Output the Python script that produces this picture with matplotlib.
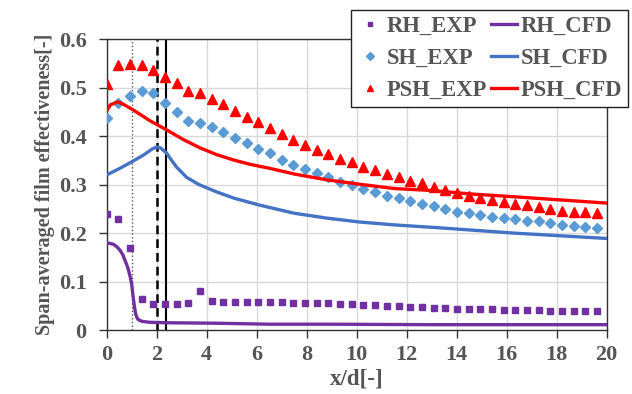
import matplotlib
matplotlib.use("Agg")
import matplotlib.pyplot as plt

# ---------------------------------------------------------------------------
# Data
# ---------------------------------------------------------------------------

x_exp = [0.00, 0.47, 0.93, 1.40, 1.87, 2.34, 2.80, 3.27, 3.74, 4.20,
         4.67, 5.14, 5.60, 6.07, 6.54, 7.01, 7.47, 7.94, 8.41, 8.87,
         9.34, 9.81, 10.27, 10.74, 11.21, 11.68, 12.14, 12.61, 13.08, 13.54,
         14.01, 14.48, 14.94, 15.41, 15.88, 16.35, 16.81, 17.28, 17.75, 18.21,
         18.68, 19.15, 19.61]

rh_exp = [0.239, 0.229, 0.169, 0.065, 0.054, 0.054, 0.054, 0.055, 0.081, 0.060,
          0.057, 0.058, 0.057, 0.057, 0.057, 0.057, 0.056, 0.056, 0.055, 0.055,
          0.054, 0.053, 0.052, 0.052, 0.050, 0.050, 0.048, 0.047, 0.046, 0.045,
          0.044, 0.043, 0.043, 0.043, 0.042, 0.042, 0.041, 0.041, 0.040, 0.040,
          0.040, 0.039, 0.039]

sh_exp = [0.438, 0.468, 0.482, 0.494, 0.489, 0.468, 0.449, 0.431, 0.427, 0.420,
          0.409, 0.396, 0.385, 0.374, 0.365, 0.351, 0.341, 0.332, 0.325, 0.315,
          0.306, 0.299, 0.291, 0.284, 0.277, 0.272, 0.267, 0.261, 0.255, 0.249,
          0.244, 0.241, 0.237, 0.234, 0.232, 0.229, 0.226, 0.224, 0.220, 0.217,
          0.215, 0.213, 0.210]

psh_exp = [0.507, 0.546, 0.549, 0.546, 0.537, 0.523, 0.509, 0.493, 0.489, 0.477,
           0.466, 0.453, 0.440, 0.429, 0.417, 0.405, 0.392, 0.382, 0.372, 0.363,
           0.354, 0.347, 0.337, 0.330, 0.323, 0.315, 0.308, 0.303, 0.296, 0.290,
           0.283, 0.277, 0.272, 0.268, 0.265, 0.261, 0.258, 0.253, 0.250, 0.246,
           0.244, 0.243, 0.241]

x_rh_cfd = [0.0, 0.1, 0.27, 0.4, 0.53, 0.65, 0.73, 0.8, 0.87, 0.93, 1.0,
            1.05, 1.1, 1.15, 1.2, 1.25, 1.4, 1.7, 2.4, 4.4, 6.5, 9.0, 13.0,
            16.0, 20.0]
rh_cfd = [0.180, 0.179, 0.177, 0.172, 0.165, 0.155, 0.144, 0.135, 0.124,
          0.112, 0.095, 0.072, 0.052, 0.035, 0.027, 0.022, 0.018, 0.016,
          0.015, 0.014, 0.012, 0.012, 0.011, 0.011, 0.011]

x_sh_cfd = [0.0, 0.5, 1.0, 1.5, 1.8, 2.0, 2.15, 2.4, 2.6, 2.8, 3.2, 3.7,
            4.4, 5.1, 6.1, 7.5, 8.8, 10.1, 11.5, 13.3, 16.3, 20.0]
sh_cfd = [0.320, 0.333, 0.347, 0.362, 0.373, 0.378, 0.376, 0.365, 0.350,
          0.336, 0.315, 0.300, 0.285, 0.272, 0.258, 0.241, 0.231, 0.223,
          0.217, 0.211, 0.200, 0.189]

x_psh_cfd = [0.0, 0.15, 0.45, 0.7, 1.07, 1.73, 2.4, 3.07, 3.73, 4.4, 5.07,
             5.73, 6.5, 7.5, 8.8, 10.1, 11.5, 13.0, 14.5, 16.3, 18.0, 20.0]
psh_cfd = [0.452, 0.465, 0.471, 0.465, 0.454, 0.432, 0.413, 0.393, 0.376,
           0.362, 0.351, 0.342, 0.334, 0.322, 0.310, 0.301, 0.292, 0.288,
           0.281, 0.275, 0.269, 0.262]

# reference positions marked by vertical lines
x_dotted = 1.0
x_dashed = 2.03
x_solid = 2.36

x_ticks = [0, 2, 4, 6, 8, 10, 12, 14, 16, 18, 20]
y_ticks = [0, 0.1, 0.2, 0.3, 0.4, 0.5, 0.6]
y_tick_labels = ["0", "0.1", "0.2", "0.3", "0.4", "0.5", "0.6"]

# ---------------------------------------------------------------------------
# Plot
# ---------------------------------------------------------------------------

plt.rcParams["font.family"] = ["Liberation Serif", "DejaVu Serif"]
plt.rcParams["font.weight"] = "bold"

TXT = "#555555"
PURPLE = "#7030A0"
BLUE_M = "#5B9BD5"
BLUE_L = "#4472C4"
RED = "#FF0000"

fig = plt.figure(figsize=(6.32, 3.94), dpi=100)
ax = fig.add_axes([0.1688, 0.1624, 0.7911, 0.7378])

ax.axvline(x_dotted, color="#555555", linestyle=":", linewidth=1.0, zorder=2)
ax.axvline(x_dashed, color="black", linestyle=(0, (3.5, 2)), linewidth=1.8, zorder=2)
ax.axvline(x_solid, color="black", linestyle="-", linewidth=1.5, zorder=2)

ax.plot(x_exp, rh_exp, "s", color=PURPLE, markersize=4.8, label="RH_EXP", zorder=3)
ax.plot(x_exp, sh_exp, "D", color=BLUE_M, markersize=5.2, label="SH_EXP", zorder=3)
ax.plot(x_exp, psh_exp, "^", color=RED, markersize=6.5, label="PSH_EXP", zorder=3)
ax.plot(x_rh_cfd, rh_cfd, "-", color=PURPLE, linewidth=2.4, label="RH_CFD", zorder=4)
ax.plot(x_sh_cfd, sh_cfd, "-", color=BLUE_L, linewidth=2.4, label="SH_CFD", zorder=4)
ax.plot(x_psh_cfd, psh_cfd, "-", color=RED, linewidth=2.4, label="PSH_CFD", zorder=4)

ax.set_xlim(0, 20)
ax.set_ylim(0, 0.6)
ax.set_xticks(x_ticks)
ax.set_yticks(y_ticks)
ax.set_yticklabels(y_tick_labels)
ax.grid(True, color="#D9D9D9", linewidth=1.0, zorder=0)
ax.set_axisbelow(True)
ax.tick_params(direction="out", length=5.5, width=1, colors="#333333",
               labelcolor=TXT, labelsize=16)
ax.tick_params(axis="y", pad=9)
ax.tick_params(axis="x", pad=5)
for lab in ax.get_xticklabels() + ax.get_yticklabels():
    lab.set_fontweight("bold")
for s in ax.spines.values():
    s.set_color("#333333")
    s.set_linewidth(1.0)

ax.set_xlabel("x/d[-]", fontsize=16.5, fontweight="bold", color=TXT, labelpad=3)
ax.set_ylabel("Span-averaged film effectiveness[-]", fontsize=14.5,
              fontweight="bold", color=TXT, labelpad=3)

leg = ax.legend(ncol=2, loc="upper right", bbox_to_anchor=(628 / 632, 1 - 10 / 394),
                bbox_transform=fig.transFigure, borderaxespad=0, fancybox=False,
                framealpha=1, edgecolor="#222222",
                prop={"family": "Liberation Serif", "weight": "bold", "size": 16.3},
                handlelength=1.15, handletextpad=0.15, columnspacing=0.2,
                labelspacing=0.5, borderpad=0.25, markerscale=0.75)
leg.get_frame().set_linewidth(1.0)
leg.set_zorder(10)
for t in leg.get_texts():
    t.set_color(TXT)

fig.savefig("out.png", dpi=100)
